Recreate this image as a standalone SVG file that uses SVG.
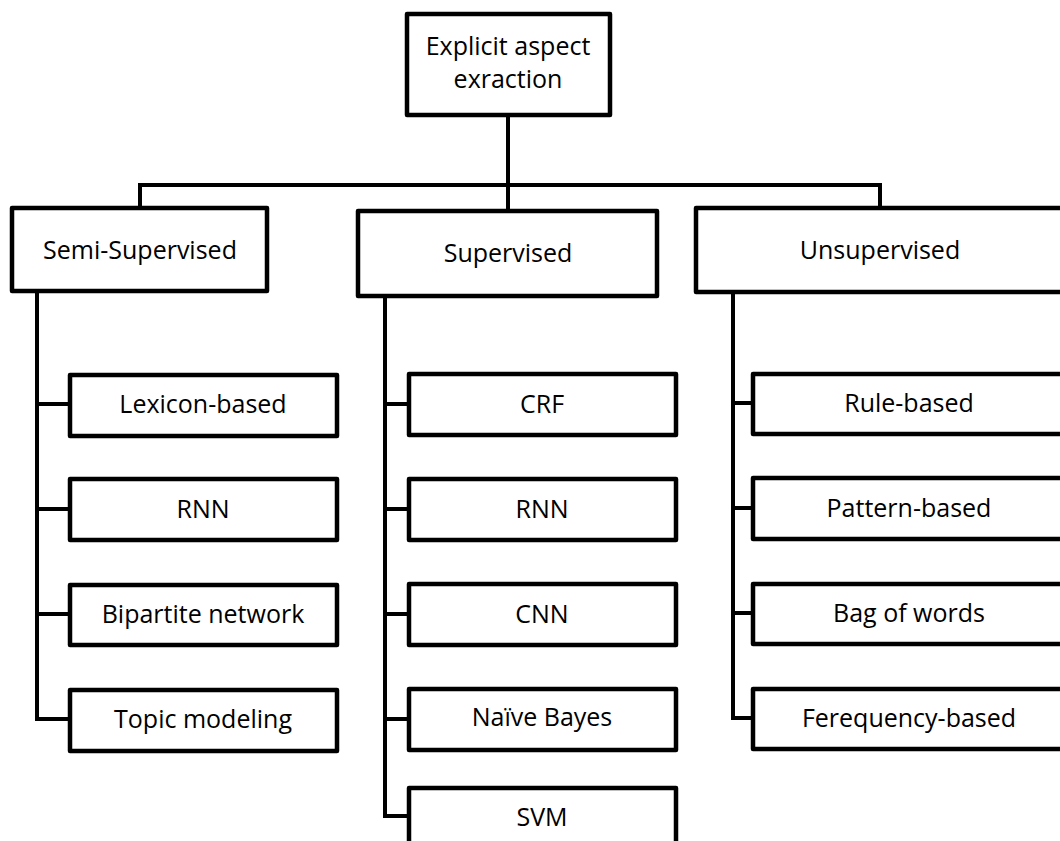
<svg xmlns="http://www.w3.org/2000/svg" width="1060" height="841" viewBox="0 0 1060 841">
<style>
  .box { fill: #ffffff; stroke: #000000; stroke-width: 4.5; stroke-linejoin: round; }
  .conn { fill: none; stroke: #000000; stroke-width: 4; stroke-linejoin: round; stroke-linecap: butt; }
  text { font-family: "Open Sans", "Liberation Sans", sans-serif; font-size: 25px; fill: #000000; text-anchor: middle; }
</style>
<rect width="1060" height="841" fill="#ffffff"/>
<g id="connectors">
  <path class="conn" d="M508,115 V185 M140,185 H880 M140,183 V208 M508,185 V211 M880,183 V208"/>
  <path class="conn" d="M37,291 V721 M35,404 H70 M35,509 H70 M35,614 H70 M35,719 H70"/>
  <path class="conn" d="M385,296 V818 M383,404 H409 M383,509 H409 M383,614 H409 M383,719 H409 M383,816 H409"/>
  <path class="conn" d="M733,292 V720 M731,403 H753 M731,508 H753 M731,613 H753 M731,718 H753"/>
</g>
<g id="root">
  <rect class="box" x="407" y="14" width="203" height="101"/>
  <text x="508" y="55">Explicit aspect</text>
  <text x="508" y="88">exraction</text>
</g>
<g id="semi">
  <rect class="box" x="12" y="208" width="255" height="83"/>
  <text x="140" y="259">Semi-Supervised</text>
</g>
<g id="sup">
  <rect class="box" x="358" y="211" width="299" height="85"/>
  <text x="508" y="262">Supervised</text>
</g>
<g id="unsup">
  <rect class="box" x="696" y="208" width="370" height="84"/>
  <text x="880" y="259">Unsupervised</text>
</g>
<g id="semi-lexicon">
  <rect class="box" x="70" y="375" width="267" height="61"/>
  <text x="203" y="413">Lexicon-based</text>
</g>
<g id="semi-rnn">
  <rect class="box" x="70" y="479" width="267" height="61"/>
  <text x="203" y="518">RNN</text>
</g>
<g id="semi-bipartite">
  <rect class="box" x="70" y="585" width="267" height="60"/>
  <text x="203" y="623">Bipartite network</text>
</g>
<g id="semi-topic">
  <rect class="box" x="70" y="690" width="267" height="61"/>
  <text x="203" y="728">Topic modeling</text>
</g>
<g id="sup-crf">
  <rect class="box" x="409" y="374" width="267" height="61"/>
  <text x="542" y="413">CRF</text>
</g>
<g id="sup-rnn">
  <rect class="box" x="409" y="479" width="267" height="61"/>
  <text x="542" y="518">RNN</text>
</g>
<g id="sup-cnn">
  <rect class="box" x="409" y="584" width="267" height="61"/>
  <text x="542" y="623">CNN</text>
</g>
<g id="sup-nb">
  <rect class="box" x="409" y="689" width="267" height="61"/>
  <text x="542" y="726">Naïve Bayes</text>
</g>
<g id="sup-svm">
  <rect class="box" x="409" y="788" width="267" height="70"/>
  <text x="542" y="826">SVM</text>
</g>
<g id="unsup-rule">
  <rect class="box" x="753" y="374" width="320" height="60"/>
  <text x="909" y="412">Rule-based</text>
</g>
<g id="unsup-pattern">
  <rect class="box" x="753" y="478" width="320" height="61"/>
  <text x="909" y="517">Pattern-based</text>
</g>
<g id="unsup-bag">
  <rect class="box" x="753" y="584" width="320" height="60"/>
  <text x="909" y="622">Bag of words</text>
</g>
<g id="unsup-freq">
  <rect class="box" x="753" y="689" width="320" height="60"/>
  <text x="909" y="727">Ferequency-based</text>
</g>
</svg>
